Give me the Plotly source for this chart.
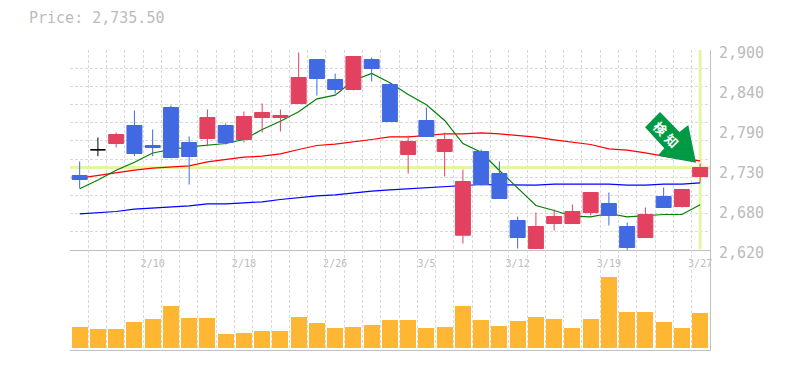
import plotly.graph_objects as go

W, H = 785, 370
PL, PR, PT, PB = 70, 75, 50, 20

dates = ["2/10", "2/18", "2/26", "3/5", "3/12", "3/19", "3/27"]
date_idx = [4, 9, 14, 19, 24, 29, 34]
price_ticks = [2900, 2840, 2790, 2730, 2680, 2620]
price_tick_pos = [2900, 2844, 2788, 2732, 2676, 2620]
last_price = 2735.5

opens = [2724.3, 2760.3, 2769.1, 2794.3, 2766.3, 2819.5, 2770.5, 2776.1, 2794.3, 2774.7,
         2805.5, 2805.5, 2825.1, 2886.7, 2858.7, 2844.7, 2886.7, 2851.7, 2753.7, 2801.3,
         2757.9, 2640.7, 2757.9, 2727.1, 2661.3, 2622.1, 2657.1, 2657.1, 2672.5, 2685.1,
         2652.9, 2637.5, 2694.9, 2680.9, 2722.9]
closes = [2718.7, 2760.3, 2781.7, 2755.1, 2763.5, 2749.5, 2750.9, 2805.5, 2770.5, 2806.9,
          2812.5, 2808.3, 2861.5, 2860.1, 2844.7, 2890.9, 2874.1, 2799.9, 2771.9, 2778.9,
          2774.7, 2715.9, 2711.7, 2692.1, 2637.5, 2652.9, 2666.9, 2673.9, 2700.5, 2668.3,
          2623.5, 2669.7, 2679.5, 2704.7, 2735.5]
highs = [2743.9, 2777.5, 2784.5, 2815.3, 2788.7, 2822.3, 2778.9, 2816.7, 2797.1, 2813.9,
         2825.1, 2816.7, 2896.5, 2886.7, 2867.1, 2890.9, 2889.5, 2853.1, 2780.3, 2819.5,
         2784.5, 2732.7, 2760.7, 2743.9, 2666.9, 2672.5, 2676.7, 2683.7, 2700.5, 2700.5,
         2658.5, 2679.5, 2707.5, 2704.7, 2741.1]
lows = [2706.8, 2751.3, 2763.5, 2751.3, 2751.3, 2748.5, 2711.7, 2765.3, 2767.7, 2770.5,
        2784.5, 2785.9, 2825.1, 2836.3, 2839.1, 2843.3, 2855.9, 2799.9, 2727.1, 2778.9,
        2722.9, 2629.1, 2710.3, 2692.1, 2622.1, 2622.1, 2647.3, 2657.1, 2668.3, 2654.3,
        2619.3, 2637.5, 2679.5, 2679.5, 2714.5]
ma_short = [2705.7, 2718.0, 2731.7, 2742.9, 2755.8, 2760.7, 2764.5, 2767.3, 2769.1, 2774.7,
            2788.7, 2800.3, 2813.5, 2831.7, 2836.7, 2857.3, 2867.1, 2854.1, 2837.7, 2823.3,
            2801.3, 2769.1, 2756.9, 2731.3, 2706.5, 2682.3, 2675.3, 2667.3, 2666.5, 2671.1,
            2666.5, 2667.6, 2669.7, 2669.7, 2683.3]
ma_mid = [2720.5, 2724.3, 2728.9, 2731.7, 2734.5, 2736.5, 2737.9, 2743.5, 2747.1, 2749.9,
          2751.3, 2754.7, 2760.7, 2766.3, 2768.1, 2770.9, 2774.7, 2778.5, 2778.5, 2780.3,
          2782.7, 2782.7, 2784.1, 2782.7, 2780.3, 2777.9, 2774.3, 2770.5, 2767.7, 2761.7,
          2759.7, 2756.1, 2751.3, 2747.7, 2744.9]
ma_long = [2670.7, 2672.1, 2673.9, 2677.1, 2678.5, 2679.5, 2681.9, 2684.7, 2684.7, 2686.1,
           2687.5, 2690.7, 2693.5, 2695.9, 2697.3, 2700.1, 2702.3, 2704.3, 2705.7, 2707.1,
           2708.9, 2710.7, 2711.7, 2711.3, 2711.3, 2710.7, 2712.1, 2712.1, 2712.1, 2712.1,
           2710.7, 2710.7, 2712.1, 2712.1, 2714.1]
volumes = [20.7, 18.7, 18.7, 25.7, 28.7, 41.7, 29.7, 29.7, 13.7, 14.7,
           16.7, 16.7, 30.7, 24.7, 19.7, 20.7, 22.7, 27.7, 27.7, 19.7,
           20.7, 41.7, 27.7, 21.7, 26.7, 30.7, 28.7, 19.7, 28.7, 70.7,
           35.7, 35.7, 25.7, 19.7, 34.7]

RED, BLUE, ORANGE = "#e2425f", "#4169e1", "#ffb733"
LIME, GRID, AXIS, TXT = "#e4f5a6", "#d9d9d9", "#c0c0c0", "#bbbbbb"
MONO = "DejaVu Sans Mono"
XR = [-0.53, 34.54]
YR = [2620, 2900]
VR = [-2.3, 97.7]
n = len(opens)
xs = list(range(n))
doji = [i for i in xs if opens[i] == closes[i]]
rest = [i for i in xs if opens[i] != closes[i]]


def pick(a, idx):
    return [a[i] for i in idx]


fig = go.Figure()
# guides and averages sit on the base axes, below the candles
fig.add_trace(go.Scatter(x=XR, y=[last_price, last_price], mode="lines", line=dict(color=LIME, width=3), xaxis="x", yaxis="y"))
fig.add_trace(go.Scatter(x=[xs[-1], xs[-1]], y=[2621, 2900], mode="lines", line=dict(color=LIME, width=3), xaxis="x", yaxis="y"))
for arr, col in ((ma_long, "#0000ff"), (ma_mid, "#ff0000"), (ma_short, "#008000")):
    fig.add_trace(go.Scatter(x=xs, y=arr, mode="lines", line=dict(color=col, width=1.2), xaxis="x", yaxis="y"))

fig.add_trace(go.Candlestick(
    x=rest, open=pick(opens, rest), high=pick(highs, rest), low=pick(lows, rest), close=pick(closes, rest),
    increasing=dict(line=dict(color=RED, width=1), fillcolor=RED),
    decreasing=dict(line=dict(color=BLUE, width=1), fillcolor=BLUE),
    xaxis="x3", yaxis="y3"))
fig.add_trace(go.Candlestick(
    x=doji, open=pick(opens, doji), high=pick(highs, doji), low=pick(lows, doji), close=pick(closes, doji),
    increasing=dict(line=dict(color="#000000", width=1), fillcolor="#000000"),
    decreasing=dict(line=dict(color="#000000", width=1), fillcolor="#000000"),
    xaxis="x3", yaxis="y3"))
fig.add_trace(go.Bar(x=xs, y=volumes, width=0.877, marker=dict(color=ORANGE, line=dict(width=0)), xaxis="x2", yaxis="y2"))

grid_x = dict(tick0=-0.53, dtick=18.285 / 18.25, tickmode="linear", showgrid=True, gridcolor=GRID, gridwidth=1,
              griddash="3px,2px", showticklabels=False, ticks="", zeroline=False,
              range=XR, showline=True, linecolor=AXIS, linewidth=1, fixedrange=True)

fig.update_layout(
    width=W, height=H, margin=dict(l=PL, r=PR, t=PT, b=PB, pad=0),
    paper_bgcolor="#ffffff", plot_bgcolor="#ffffff", showlegend=False, hovermode=False,
    boxgap=0.18, boxgroupgap=0, boxmode="overlay", bargap=0,
    xaxis=dict(anchor="y", **grid_x),
    xaxis2=dict(anchor="y2", **grid_x),
    xaxis3=dict(anchor="y3", overlaying="x", range=XR, tickmode="array", tickvals=date_idx, ticktext=dates,
                side="bottom", showgrid=False, zeroline=False, showline=False, ticks="outside", ticklen=4,
                tickcolor="rgba(0,0,0,0)", tickfont=dict(family=MONO, size=10, color=TXT),
                rangeslider=dict(visible=False), fixedrange=True),
    yaxis=dict(domain=[1 / 3, 1], range=YR, anchor="x", side="right", tick0=2620, dtick=280 / 11, tickmode="linear",
               showgrid=True, gridcolor=GRID, gridwidth=1, griddash="3px,2px", showticklabels=False, ticks="",
               zeroline=False, showline=True, linecolor=AXIS, linewidth=1, fixedrange=True),
    yaxis2=dict(domain=[0, 1 / 3], range=VR, anchor="x2", side="right", showgrid=False, showticklabels=False,
                ticks="", zeroline=False, showline=True, linecolor=AXIS, linewidth=1, fixedrange=True),
    yaxis3=dict(overlaying="y", anchor="x3", range=YR, side="right", showgrid=False, showticklabels=False,
                ticks="", zeroline=False, showline=False, fixedrange=True),
)

for lab, pos in zip(price_ticks, price_tick_pos):
    fig.add_annotation(x=1, xref="paper", xanchor="left", xshift=8, y=pos, yref="y", yshift=-3, yanchor="middle",
                       text=f"{lab:,}", showarrow=False, borderpad=0,
                       font=dict(family=MONO, size=15, color=TXT))

fig.add_annotation(x=0, xref="paper", xanchor="left", xshift=-42, y=1, yref="paper", yanchor="middle", yshift=32,
                   text=f"Price: {last_price:,.2f}", showarrow=False, borderpad=0,
                   font=dict(family=MONO, size=15, color=TXT))


def px_x(v):
    return (v - PL) / (W - PL - PR)


def px_y(v):
    return 1 - (v - PT) / (H - PT - PB)


arrow = [(660, 112), (679.5, 132), (688.3, 125), (696, 162.7), (657.7, 155.7), (664.3, 148.3), (645, 127.3)]
path = "M " + " L ".join(f"{px_x(a):.5f},{px_y(b):.5f}" for a, b in arrow) + " Z"
fig.add_shape(type="path", xref="paper", yref="paper", path=path, fillcolor="#009944", line=dict(width=0), layer="above")
for ch, cx, cy in (("検", 660.7, 128.3), ("知", 672.3, 140)):
    fig.add_annotation(x=px_x(cx), y=px_y(cy), xref="paper", yref="paper", xanchor="center", yanchor="middle",
                       text=ch, textangle=45, showarrow=False, borderpad=0,
                       font=dict(family="Noto Sans CJK JP", size=13, color="#ffffff", weight="bold"))

fig.write_html("out.html", post_script="document.body.style.margin='0';", config={"displayModeBar": False})
